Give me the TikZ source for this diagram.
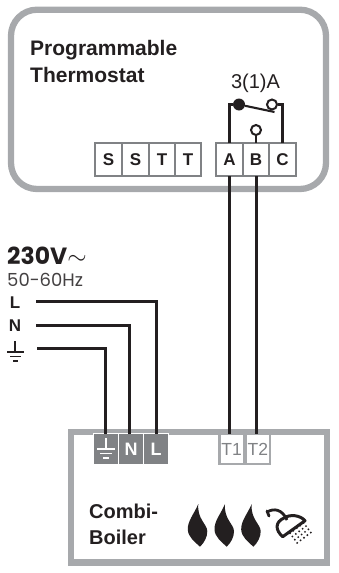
\documentclass[tikz,border=0pt]{standalone}
\usepackage{fontspec}
\setmainfont{Liberation Sans}
\newfontfamily\headfont{Poppins}
\usetikzlibrary{positioning}

\definecolor{framegray}{HTML}{A7A9AC}
\definecolor{termgray}{HTML}{808285}
\definecolor{wireblack}{HTML}{231F20}

\tikzset{
    frame/.style={draw=framegray, line width=6.3pt},
    wire/.style={draw=wireblack, line width=3pt},
    thinwire/.style={draw=wireblack, line width=2.1pt},
    cell/.style={draw=termgray, line width=2pt, fill=white, text=wireblack, minimum height=33pt, inner sep=0pt, outer sep=0pt, font=\fontsize{17}{17}\selectfont\bfseries},
    livecell/.style={draw=white, line width=1pt, fill=termgray, text=white, minimum width=25pt, minimum height=31pt, inner sep=0pt, outer sep=0pt, font=\fontsize{18}{18}\selectfont\bfseries},
    tcell/.style={draw=framegray, line width=2.4pt, fill=white, text=termgray, minimum width=24.5pt, minimum height=30pt, inner sep=0pt, outer sep=0pt, font=\fontsize{17.5}{17.5}\selectfont},
    title/.style={align=left, anchor=west, inner sep=0pt, text=wireblack, font=\fontsize{21}{27}\selectfont\bfseries},
    supply/.style={anchor=center, inner sep=0pt, text=wireblack, font=\fontsize{17}{17}\selectfont\bfseries},
}

\begin{document}
\begin{tikzpicture}[x=1pt, y=-1pt]
\useasboundingbox (0,0) rectangle (338,573);

\draw [frame, rounded corners=26pt] (11,9.7) rectangle (326,189);
\draw [frame] (71,432) rectangle (327,562.5);

\node [title] (thermostat) at (30,61) {Programmable\\Thermostat};
\node [inner sep=0pt, text=wireblack, font=\fontsize{20}{20}\selectfont] (rating) at (255.5,83) {3(1)A};

% thermostat terminals
\node [cell, minimum width=27pt] (s1) at (108.5,159.5) {S};
\node [cell, minimum width=27pt, right=0pt of s1] (s2) {S};
\node [cell, minimum width=26pt, right=0pt of s2] (t1) {T};
\node [cell, minimum width=26pt, right=0pt of t1] (t2) {T};
\node [cell, minimum width=27pt] (a) at (229.5,159.5) {A};
\node [cell, minimum width=26pt, right=0pt of a] (b) {B};
\node [cell, minimum width=27pt, right=0pt of b] (c) {C};

% relay contact
\node [circle, fill=wireblack, minimum size=12pt, inner sep=0pt] (common) at (239,104.5) {};
\node [circle, draw=wireblack, line width=2pt, fill=white, minimum size=10pt, inner sep=0pt] (no) at (272,104.5) {};
\node [circle, draw=wireblack, line width=2pt, fill=white, minimum size=10pt, inner sep=0pt] (nc) at (256,130) {};
\coordinate (blade) at (274.5,112);
\draw [thinwire] (a.north) |- (common);
\draw [thinwire] (c.north) |- (no);
\draw [thinwire] (nc) -- (b.north);
\draw [thinwire] (common) -- (blade);

% boiler terminals
\node [livecell] (gnd) at (106,449) {};
\node [livecell, right=0pt of gnd] (n) {N};
\node [livecell, right=0pt of n] (l) {L};
\node [tcell] (tone) at (231.7,449) {T1};
\node [tcell, right=1.6pt of tone] (ttwo) {T2};

\node [title, font=\fontsize{20}{26}\selectfont\bfseries] (boiler) at (89,524) {Combi-\\Boiler};

% supply
\node [anchor=west, inner sep=0pt, text=wireblack, font=\fontsize{23.5}{23.5}\selectfont\headfont\bfseries] (volt) at (7,256) {230V$\sim$};
\node [anchor=west, inner sep=0pt, text=wireblack!85, font=\fontsize{18}{18}\selectfont\headfont] (freq) at (7,280) {50-60Hz};
\node [supply] (lname) at (15,303) {L};
\node [supply] (nname) at (15,325.5) {N};
\coordinate (lstart) at (36,301);
\coordinate (nstart) at (36,325);
\coordinate (gstart) at (37,348);

\draw [wireblack, line width=1.4pt] (15,341) -- (15,352) (7,352) -- (24,352) (10,356.5) -- (21,356.5) (13,361) -- (18,361);
\draw [white, line width=1.6pt] (106,438) -- (106,449) (97,449) -- (115,449) (100,453.5) -- (112,453.5) (103,458) -- (109,458);

\draw [wire] (lstart) -- (156,301) -- (156,434);
\draw [wire] (nstart) -- (129,325) -- (129,434);
\draw [wire] (gstart) -- (105,348) -- (105,434);
\draw [wire] (a.south) -- (a.south |- tone.north);
\draw [wire] (b.south) -- (b.south |- ttwo.north);

% flames
\foreach \x in {0,26.7,53.4}
    \fill [wireblack, xshift=\x pt] (198.3,504) .. controls (194,514) and (187.5,521) .. (187.8,529.5)
        .. controls (188,537) and (195,542) .. (200,546.7)
        .. controls (204,543) and (207.5,537) .. (207.3,531)
        .. controls (207,524) and (197,519) .. (198.3,504) -- cycle;

% shower
\draw [wireblack, line width=2.8pt, line cap=round] (267,511) -- (269,516);
\draw [wireblack, line width=2.8pt] (267,512) .. controls (274,508) and (282,509) .. (287,520);
\draw [wireblack, line width=3pt, line join=round] (282.7,536.7) .. controls (275,530) and (275,522) .. (284,518)
    .. controls (290,514) and (300,515) .. (305,520.7) -- cycle;
\foreach \i in {0,...,4}
    \foreach \j in {0,...,3}
        \fill [wireblack] ({290+3.4*\i+2.4*\j},{533.3-2.6*\i+3.2*\j}) circle (1.05pt);
\end{tikzpicture}
\end{document}
